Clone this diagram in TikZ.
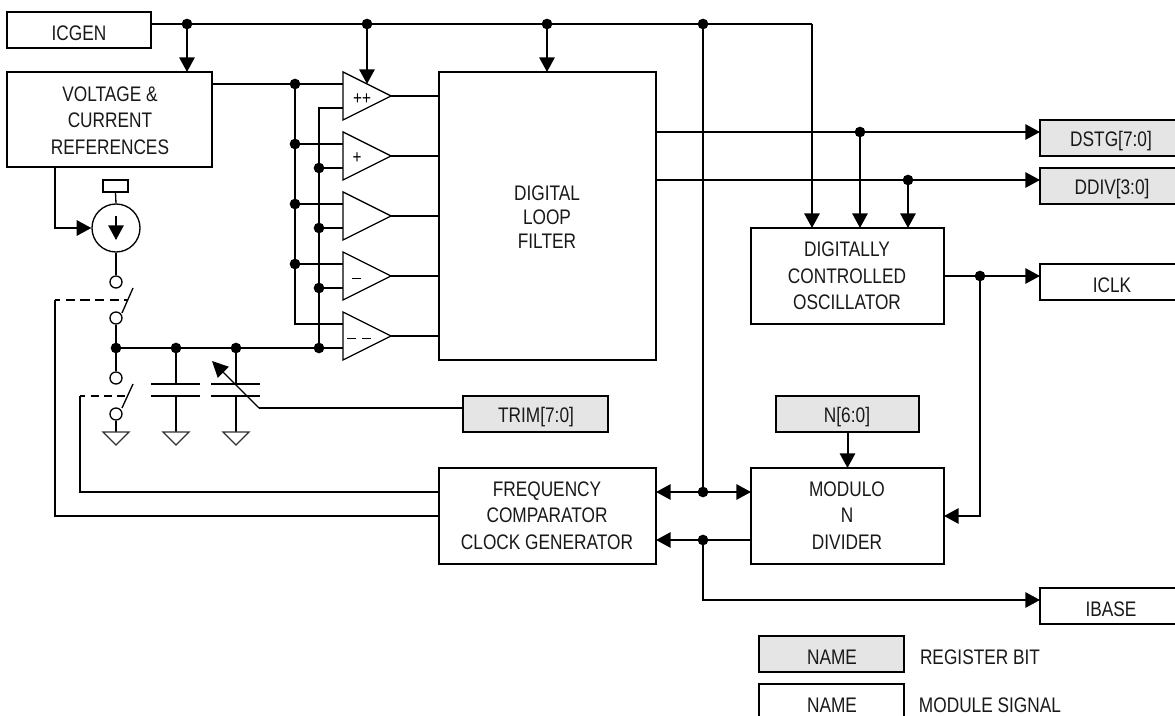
\documentclass[tikz,border=0pt]{standalone}
\usepackage{fontspec}
\setmainfont[FakeStretch=0.82]{Liberation Sans}
\usetikzlibrary{arrows.meta,calc}
\definecolor{reggray}{RGB}{229,229,229}
\newcommand{\mkbox}[6]{\node[#1,minimum width={((#5)-(#3))*0.75pt},minimum height={((#6)-(#4))*0.75pt}] (#2) at ({((#3)+(#5))/2},{((#4)+(#6))/2}) {};}
\tikzset{
  x=0.75pt,y=-0.75pt,
  wire/.style={line width=1.5pt},
  thinw/.style={line width=1pt},
  arr/.style={wire,-{Triangle[length=11pt,width=11.5pt]}},
  block/.style={draw,line width=1.5pt,inner sep=0pt,outer sep=0pt},
  reg/.style={block,fill=reggray},
  lbl/.style={font=\fontsize{15.8}{20}\selectfont,align=center,inner sep=0pt,text=black!90},
  sgn/.style={font=\fontsize{14}{14}\selectfont,inner sep=0pt},
  dot/.style={circle,fill=black,inner sep=0pt,minimum size=8pt},
  hollow/.style={circle,draw,fill=white,line width=1pt,inner sep=0pt,minimum size=9pt},
  cmpr/.style={draw,line width=1pt,fill=white,line join=miter},
  gnd/.style={draw=black!80,line width=1pt,fill=white},
  capplate/.style={line width=1.5pt},
}
\begin{document}
\begin{tikzpicture}
\path[use as bounding box,clip] (0,0) rectangle (1175,716);
\fill[white] (0,0) rectangle (1175,716);

% blocks
\mkbox{block}{icgen}{7}{12}{151}{48}
\mkbox{block}{vref}{7}{72}{212}{167}
\mkbox{block}{filt}{439}{72}{656}{360}
\mkbox{block}{dco}{751}{228}{944}{324}
\mkbox{block}{fcmp}{439}{468}{656}{564}
\mkbox{block}{modn}{751}{468}{944}{564}
\mkbox{reg}{dstg}{1040}{120}{1184}{156}
\mkbox{reg}{ddiv}{1040}{168}{1184}{204}
\mkbox{block}{iclk}{1040}{264}{1184}{300}
\mkbox{block}{ibase}{1040}{588}{1184}{624}
\mkbox{reg}{trim}{463}{396}{608}{432}
\mkbox{reg}{nreg}{776}{396}{919}{432}
\mkbox{reg}{lega}{759}{636}{904}{672}
\mkbox{block}{legb}{759}{684}{904}{730}

\node[lbl] (ticgen) at (79,33) {ICGEN};
\node[lbl] (tvref) at (110,120.5) {VOLTAGE \&\\CURRENT\\REFERENCES};
\node[lbl,font=\fontsize{15.8}{18}\selectfont] (tfilt) at (547,217.5) {DIGITAL\\LOOP\\FILTER};
\node[lbl] (tdco) at (847,276) {DIGITALLY\\CONTROLLED\\OSCILLATOR};
\node[lbl] (tfcmp) at (547,515.5) {FREQUENCY\\COMPARATOR\\CLOCK GENERATOR};
\node[lbl] (tmodn) at (847,515.5) {MODULO\\N\\DIVIDER};
\node[lbl] (tdstg) at (1111,141) {DSTG[7:0]};
\node[lbl] (tddiv) at (1112,189) {DDIV[3:0]};
\node[lbl] (ticlk) at (1112,285) {ICLK};
\node[lbl] (tibase) at (1111,609) {IBASE};
\node[lbl] (ttrim) at (536,417) {TRIM[7:0]};
\node[lbl] (tn) at (847,417) {N[6:0]};
\node[lbl] (tlega) at (832,657) {NAME};
\node[lbl] (tlegb) at (832,705) {NAME};
\node[lbl] (tregbit) at (980,657) {REGISTER BIT};
\node[lbl] (tmodsig) at (990,705) {MODULE SIGNAL};

% junction coordinates
\coordinate (j1) at (187,24);
\coordinate (j2) at (367,24);
\coordinate (j3) at (547,24);
\coordinate (j4) at (703,24);
\coordinate (j5) at (812,24);
\coordinate (ja) at (295,84);
\coordinate (jb) at (295,144);
\coordinate (jc) at (295,204);
\coordinate (jd) at (295,264);
\coordinate (je) at (295,324);
\coordinate (ka) at (319,108);
\coordinate (kb) at (319,168);
\coordinate (kc) at (319,228);
\coordinate (kd) at (319,288);
\coordinate (ke) at (319,348);
\coordinate (s) at (116,348);
\coordinate (c1) at (176,348);
\coordinate (c2) at (236,348);
\coordinate (q1) at (860,132);
\coordinate (q2) at (908,180);
\coordinate (q3) at (980,276);
\coordinate (m1) at (703,492);
\coordinate (m2) at (703,540);
\coordinate (m3) at (703,600);

% comparators' pins
\foreach \n/\y in {1/72,2/132,3/192,4/252,5/312}{
  \coordinate (ui\n) at (343,\y+12);
  \coordinate (li\n) at (343,\y+36);
  \coordinate (out\n) at (391,\y+24);
}

% top rail
\draw[wire] (icgen.east |- j1) -- (j1) -- (j2) -- (j3) -- (j4) -- (j5);
\draw[arr] (j5) -- (j5 |- dco.north);
\draw[arr] (j1) -- (j1 |- vref.north);
\draw[arr] (j3) -- (j3 |- filt.north);
\draw[wire] (j4) -- (m1);

% comparator inputs
\draw[wire] (vref.east |- ja) -- (ja) -- (ui1);
\draw[wire] (ja) -- (jb) -- (jc) -- (jd) -- (je) -- (ui5);
\draw[wire] (jb) -- (ui2);
\draw[wire] (jc) -- (ui3);
\draw[wire] (jd) -- (ui4);
\draw[wire] (li1) -- (ka) -- (kb) -- (kc) -- (kd) -- (ke) -- (li5);
\draw[wire] (kb) -- (li2);
\draw[wire] (kc) -- (li3);
\draw[wire] (kd) -- (li4);
\foreach \n in {1,...,5}{\draw[wire] (out\n) -- (out\n -| filt.west);}

% comparators
\foreach \n/\y in {1/72,2/132,3/192,4/252,5/312}{
  \draw[cmpr] (343,\y) -- (391,\y+24) -- (343,\y+48) -- cycle;
}
\draw[arr] (j2) -- (367,84);
\node[sgn] (p1) at (362,99) {++};
\node[sgn] (p2) at (357,158.5) {+};
\draw[line width=0.8pt] (352,278.5) -- (361,278.5);
\draw[line width=0.8pt] (347,338.5) -- (356,338.5) (362,338.5) -- (371,338.5);

% outputs
\draw[arr] (q1 -| filt.east) -- (q1) -- (q1 -| dstg.west);
\draw[arr] (q2 -| filt.east) -- (q2) -- (q2 -| ddiv.west);
\draw[arr] (q1) -- (q1 |- dco.north);
\draw[arr] (q2) -- (q2 |- dco.north);
\draw[arr] (q3 -| dco.east) -- (q3) -- (q3 -| iclk.west);
\coordinate (q4) at (980,516);
\draw[arr] (q3) -- (q4) -- (modn.east |- q4);
\draw[arr] (nreg.south) -- (modn.north);

% bottom links
\draw[arr] (m1) -- (m1 -| modn.west);
\draw[arr] (m1) -- (m1 -| fcmp.east);
\draw[arr] (m2 -| modn.west) -- (m2) -- (m2 -| fcmp.east);
\draw[arr] (m2) -- (m3) -- (m3 -| ibase.west);

% current source
\coordinate (cs) at (116,228);
\coordinate (vo) at (55,167);
\node[draw,circle,line width=1pt,inner sep=0pt,minimum size=36pt,fill=white] (src) at (cs) {};
\mkbox{draw,line width=1.2pt,inner sep=0pt,fill=white}{tag}{103}{180}{128}{192}
\draw[thinw] (tag.south) -- (src.north);
\draw[arr] (vo) -- (55,228) -- (src.west);
\draw[arr] (116,216) -- (116,240);

% switches
\node[hollow] (h1) at (116,282) {};
\node[hollow] (h2) at (116,318) {};
\node[hollow] (h3) at (116,378) {};
\node[hollow] (h4) at (116,414) {};
\draw[wire] (src.south) -- (h1.north);
\draw[wire] (h2.south) -- (s) -- (h3.north);
\draw[thinw] (122,313) -- (133,288);
\draw[thinw] (122,408) -- (133,384);
\coordinate (g1) at (116,432);
\coordinate (g2) at (176,432);
\coordinate (g3) at (236,432);
\draw[wire] (h4.south) -- (g1);
\draw[wire] (s) -- (c1) -- (c2) -- (ke);

% capacitors
\coordinate (p1a) at (176,384); \coordinate (p1b) at (176,396);
\coordinate (p2a) at (236,384); \coordinate (p2b) at (236,396);
\draw[wire] (c1) -- (p1a) (p1b) -- (g2);
\draw[wire] (c2) -- (p2a) (p2b) -- (g3);
\draw[capplate] (151,384) -- (200,384) (151,396) -- (200,396);
\draw[capplate] (211,384) -- (260,384) (211,396) -- (260,396);

% grounds
\foreach \g in {g1,g2,g3}{
  \draw[gnd] ($(\g)+(-13,0)$) -- ($(\g)+(13,0)$) -- ($(\g)+(0,13)$) -- cycle;
}

% trim arrow
\coordinate (tr) at (259,408);
\coordinate (tr2) at (212,361);
\draw[wire] (trim.west |- tr) -- (tr);
\draw[thinw,-{Triangle[length=12pt,width=11.5pt]}] (tr) -- (tr2);

% dashed ganging and control lines
\coordinate (d1) at (55,300);
\coordinate (d2) at (80,396);
\draw[wire,dash pattern=on 7pt off 4pt,dash phase=3pt] (d1) -- (128,300);
\draw[wire,dash pattern=on 6pt off 4pt,dash phase=2pt] (d2) -- (128,396);
\draw[wire] (d1) -- (55,516) -- (55,516 -| fcmp.west);
\draw[wire] (d2) -- (80,492) -- (80,492 -| fcmp.west);

% dots
\foreach \d in {j1,j2,j3,j4,ja,jb,jc,jd,kb,kc,kd,ke,s,c1,c2,q1,q2,q3,m1,m2}{
  \node[dot] at (\d) {};
}
\end{tikzpicture}
\end{document}
